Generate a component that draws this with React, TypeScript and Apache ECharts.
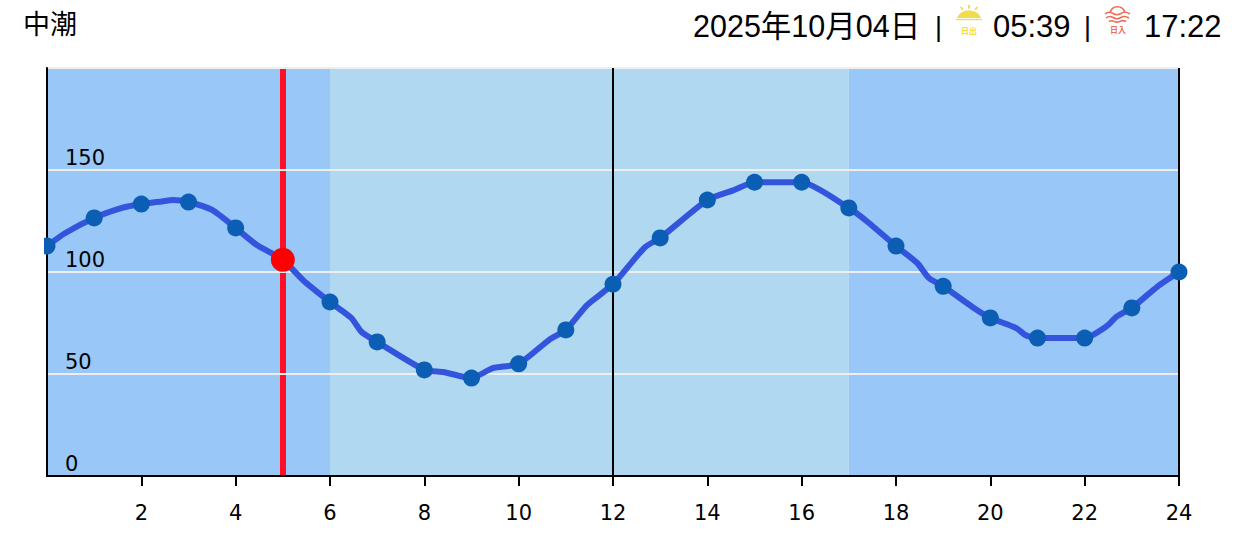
import React, { useEffect, useRef } from "react";
import * as echarts from "echarts";

const tideTitle = "中潮";
const dateText = "2025年10月04日";
const sunriseText = "05:39";
const sunsetText = "17:22";
const xTicks = { min: 0, max: 24, step: 2 };
const yTicks = { min: 0, max: 200, step: 50 };

const hourly = [112.7, 126.5, 133.3, 134.3, 121.6, 106, 85.3, 65.7, 52, 48, 55, 71.6, 94, 116.7, 135.3, 144, 144, 131.4, 112.7, 93, 77.5, 67.6, 67.6, 82.4, 100];
const curveHours = [0, 0.38, 1, 1.59, 2, 2.44, 2.67, 3, 3.5, 4, 4.45, 5, 5.43, 6, 6.45, 6.67, 7, 8, 8.4, 9, 9.45, 10, 10.66, 11, 11.45, 12, 12.67, 13, 14, 14.55, 15, 16, 17, 17.4, 18, 18.45, 18.7, 19, 19.65, 20, 20.55, 20.75, 21, 22, 22.47, 22.67, 23, 23.55, 24];
const curveValues = [112.7, 119, 126.5, 131.4, 133.3, 134.6, 135.3, 134.3, 130.4, 121.6, 113.2, 106, 96, 85.3, 77.5, 70.6, 65.7, 52, 51, 48, 52.9, 55, 67, 71.6, 83.8, 94, 112, 116.7, 135.3, 140, 144, 144, 131.4, 124.5, 112.7, 104.4, 97, 93, 82.4, 77.5, 72.5, 69, 67.6, 67.6, 73.5, 78, 82.4, 93, 100];
const currentHour = 5;
const currentValue = 106;
const dayStart = 6;
const dayEnd = 17;
const blackLines = [12, 24];
const whiteLines = [50, 100, 150, 200];

const BLUE_NIGHT = "#99c8f8";
const BLUE_DAY = "#b0d8f0";
const UI_FONT = "'Noto Sans CJK JP', 'Liberation Sans', sans-serif";
const NUM_FONT = "'Liberation Sans', 'Noto Sans CJK JP', sans-serif";
const AXIS_FONT = "'DejaVu Sans', sans-serif";

echarts.graphic.registerShape(
  "sunriseIcon",
  echarts.graphic.extendPath(
    "M0 13 C2 8 6 5.5 12 5.5 C18 5.5 22 8 24 13 Z M-1 14 L25 14 L25 15.2 L-1 15.2 Z M11 0 L13 0 L13 3.6 L11 3.6 Z M3 2.2 L4.6 1.4 L6.6 4.6 L5 5.6 Z M21 2.2 L19.4 1.4 L17.4 4.6 L19 5.6 Z",
    {}
  )
);
echarts.graphic.registerShape(
  "sunsetIcon",
  echarts.graphic.extendPath(
    "M5 7 C6 2.5 9 0.8 12.5 0.8 C16 0.8 19 2.5 20 7 M0 8 C3 5.5 5 5.5 8 7.5 C10.5 9 13.5 9 16 7.5 C19 5.5 21 5.5 25 8 M1 12 C3.5 10 5.5 10 8 11.5 C10.5 13 13.5 13 16 11.5 C18.5 10 21 10 24 12 M4 15.5 C6 14.4 7 14.4 9 15.4 C11 16.4 13 16.4 15 15.4 C17 14.4 19 14.4 21 15.5",
    {}
  )
);

export default function App() {
  const ref = useRef<HTMLDivElement>(null);
  useEffect(() => {
    document.body.style.margin = "0";
    const chart = echarts.init(ref.current!, undefined, { renderer: "svg" });
    chart.setOption({
      animation: false,
      backgroundColor: "#ffffff",
      grid: { left: 47, right: 65, top: 68, bottom: 72 },
      xAxis: {
        type: "value",
        min: xTicks.min,
        max: xTicks.max,
        interval: xTicks.step,
        z: 10,
        splitLine: { show: false },
        axisLine: { show: true, lineStyle: { color: "#000", width: 2 } },
        axisTick: { show: true, length: 10, lineStyle: { color: "#000", width: 2 } },
        axisLabel: { show: true, margin: 26, fontSize: 21, color: "#000", fontFamily: AXIS_FONT, showMinLabel: false, showMaxLabel: true },
      },
      yAxis: {
        type: "value",
        min: yTicks.min,
        max: yTicks.max,
        interval: yTicks.step,
        z: 10,
        splitLine: { show: false },
        axisLine: { show: true, lineStyle: { color: "#000", width: 2 } },
        axisTick: { show: false },
        axisLabel: {
          show: true,
          inside: true,
          margin: 18,
          fontSize: 21,
          lineHeight: 25,
          color: "#000",
          fontFamily: AXIS_FONT,
          verticalAlign: "bottom",
          showMaxLabel: false,
        },
      },
      series: [
        {
          type: "line",
          z: 2,
          data: [],
          silent: true,
          markArea: {
            silent: true,
            data: [
              [{ xAxis: xTicks.min, itemStyle: { color: BLUE_NIGHT } }, { xAxis: dayStart }],
              [{ xAxis: dayStart, itemStyle: { color: BLUE_DAY } }, { xAxis: dayEnd }],
              [{ xAxis: dayEnd, itemStyle: { color: BLUE_NIGHT } }, { xAxis: xTicks.max }],
            ],
          },
        },
        {
          type: "line",
          z: 3,
          data: [],
          silent: true,
          markLine: {
            silent: true,
            symbol: "none",
            label: { show: false },
            lineStyle: { color: "#ff1028", width: 6, type: "solid" },
            data: [{ xAxis: currentHour }],
          },
        },
        {
          type: "line",
          z: 4,
          data: [],
          silent: true,
          markLine: {
            silent: true,
            symbol: "none",
            label: { show: false },
            lineStyle: { color: "#eeeeee", width: 2, type: "solid" },
            data: whiteLines.map((v) => ({ yAxis: v })),
          },
        },
        {
          type: "line",
          z: 5,
          data: [],
          silent: true,
          markLine: {
            silent: true,
            symbol: "none",
            label: { show: false },
            lineStyle: { color: "#000", width: 2, type: "solid" },
            data: blackLines.map((v) => ({ xAxis: v })),
          },
        },
        {
          type: "line",
          z: 20,
          clip: false,
          showSymbol: false,
          symbol: "none",
          smooth: 0.2,
          lineStyle: { color: "#3355dd", width: 6, join: "round" },
          data: curveHours.map((h, i) => [h, curveValues[i]]),
        },
        {
          type: "scatter",
          z: 21,
          clip: false,
          symbolSize: 17,
          itemStyle: { color: "#0b5eb4", opacity: 1 },
          data: hourly.map((v, h) => [h, v]),
        },
        {
          type: "scatter",
          z: 22,
          clip: false,
          symbolSize: 24,
          itemStyle: { color: "#ff0000", opacity: 1 },
          data: [[currentHour, currentValue]],
        },
      ],
      graphic: {
        elements: [
          { type: "rect", z: 100, shape: { x: 30, y: 232, width: 14, height: 28 }, style: { fill: "#fff" } },
          { type: "text", z: 100, x: 23, y: 22, style: { text: tideTitle, font: `27px ${UI_FONT}`, fill: "#000", textVerticalAlign: "middle" } },
          { type: "text", z: 100, x: 693, y: 26, style: { text: dateText, font: `30.5px ${NUM_FONT}`, fill: "#000", textVerticalAlign: "middle" } },
          { type: "text", z: 100, x: 935, y: 27, style: { text: "|", font: `27px ${NUM_FONT}`, fill: "#000", textVerticalAlign: "middle" } },
          { type: "text", z: 100, x: 993, y: 26, style: { text: sunriseText, font: `31px ${NUM_FONT}`, fill: "#000", textVerticalAlign: "middle" } },
          { type: "text", z: 100, x: 1084, y: 27, style: { text: "|", font: `27px ${NUM_FONT}`, fill: "#000", textVerticalAlign: "middle" } },
          { type: "text", z: 100, x: 1144, y: 26, style: { text: sunsetText, font: `31px ${NUM_FONT}`, fill: "#000", textVerticalAlign: "middle" } },
          { type: "sunriseIcon", z: 100, x: 957, y: 5, style: { fill: "#f3dc4a" } },
          { type: "text", z: 100, x: 961, y: 30, style: { text: "日出", font: `bold 8px ${UI_FONT}`, fill: "#f3dc4a", textVerticalAlign: "middle" } },
          { type: "sunsetIcon", z: 100, x: 1105, y: 6, style: { fill: "none", stroke: "#ec6f5a", lineWidth: 1.6 } },
          { type: "text", z: 100, x: 1110, y: 29, style: { text: "日入", font: `bold 8px ${UI_FONT}`, fill: "#ec6f5a", textVerticalAlign: "middle" } },
        ],
      },
    });
    return () => chart.dispose();
  }, []);
  return <div ref={ref} style={{ position: "fixed", left: 0, top: 0, width: 1244, height: 548 }} />;
}
